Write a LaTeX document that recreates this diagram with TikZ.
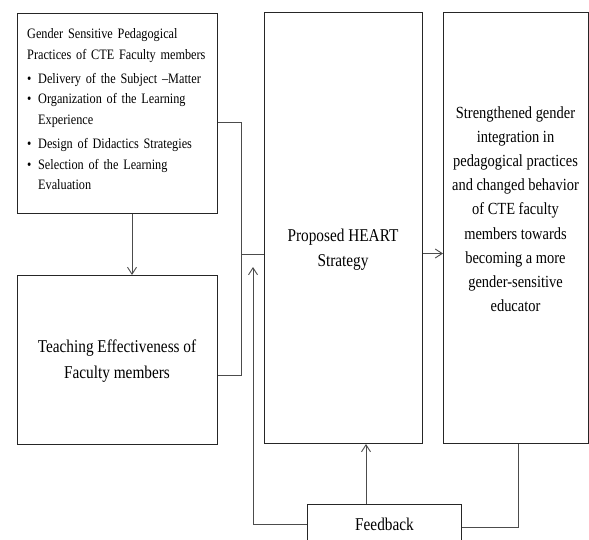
\documentclass[tikz,border=0pt]{standalone}
\usepackage{fontspec}
\setmainfont{Liberation Serif}[FakeStretch=0.85]
\usetikzlibrary{arrows.meta,calc}
\tikzset{
  box/.style={draw=black!85, line width=1pt, rectangle, inner sep=0pt, anchor=north west},
  conn/.style={draw=black!70, line width=0.9pt},
  arr/.style={conn, -{Straight Barb[length=7pt,width=9pt,line width=0.9pt]}},
  lbl/.style={align=center, inner sep=0pt}
}
\newcommand{\bitem}{\makebox[11pt][l]{\textbullet}}
\begin{document}
\begin{tikzpicture}[x=1pt,y=-1pt]
\useasboundingbox (0,0) rectangle (589,540);
\clip (0,0) rectangle (589,540);
% boxes
\node[box, minimum width=200pt, minimum height=200pt] (b1) at (17,13) {};
\node[inner sep=0pt, anchor=north west, align=left, text width=185pt,
      font=\fontsize{14.4}{20.6}\selectfont] (t1) at (27,28.5)
 {Gender Sensitive Pedagogical\\
  Practices of CTE Faculty members\\[3.5pt]
  \bitem Delivery of the Subject --Matter\\
  \bitem Organization of the Learning\\
  \hspace*{11pt}Experience\\[3.5pt]
  \bitem Design of Didactics Strategies\\
  \bitem Selection of the Learning\\
  \hspace*{11pt}Evaluation};
\node[box, minimum width=200pt, minimum height=169pt] (b2) at (17,275) {};
\node[lbl, font=\fontsize{18}{26}\selectfont] (t2) at (117,361)
 {Teaching Effectiveness of\\Faculty members};
\node[box, minimum width=158pt, minimum height=431pt] (b3) at (264,12) {};
\node[lbl, font=\fontsize{18}{25}\selectfont] (t3) at (343,250) {Proposed HEART\\Strategy};
\node[box, minimum width=145pt, minimum height=431pt] (b4) at (443,12) {};
\node[lbl, font=\fontsize{17}{24.2}\selectfont] (t4) at (515.5,209)
 {Strengthened gender\\integration in\\pedagogical practices\\and changed behavior\\of CTE faculty\\members towards\\becoming a more\\gender-sensitive\\educator};
\node[box, minimum width=154pt, minimum height=39pt, font=\fontsize{18}{22}\selectfont] (fb) at (307,504) {Feedback};
% junction and free end
\coordinate (j) at (241,254);
\coordinate (fbend) at (253,267);
% connectors
\draw[arr] (b1.south -| 132,0) -- (b2.north -| 132,0);
\draw[conn] ($(b1.east)+(0,9)$) -| (j);
\draw[conn] ($(b2.east)+(0,15.5)$) -| (j);
\draw[conn] (j) -- (j -| b3.west);
\draw[arr] ($(b3.east)+(0,25.5)$) -- ($(b4.west)+(0,25.5)$);
\draw[arr] ($(fb.north west)+(59,0)$) -- ($(b3.south west)+(102,0)$);
\draw[conn] ($(b4.south west)+(75,0)$) |- ($(fb.east)+(0,3.5)$);
\draw[arr] ($(fb.west)+(0,0.5)$) -| (fbend);
\end{tikzpicture}
\end{document}
